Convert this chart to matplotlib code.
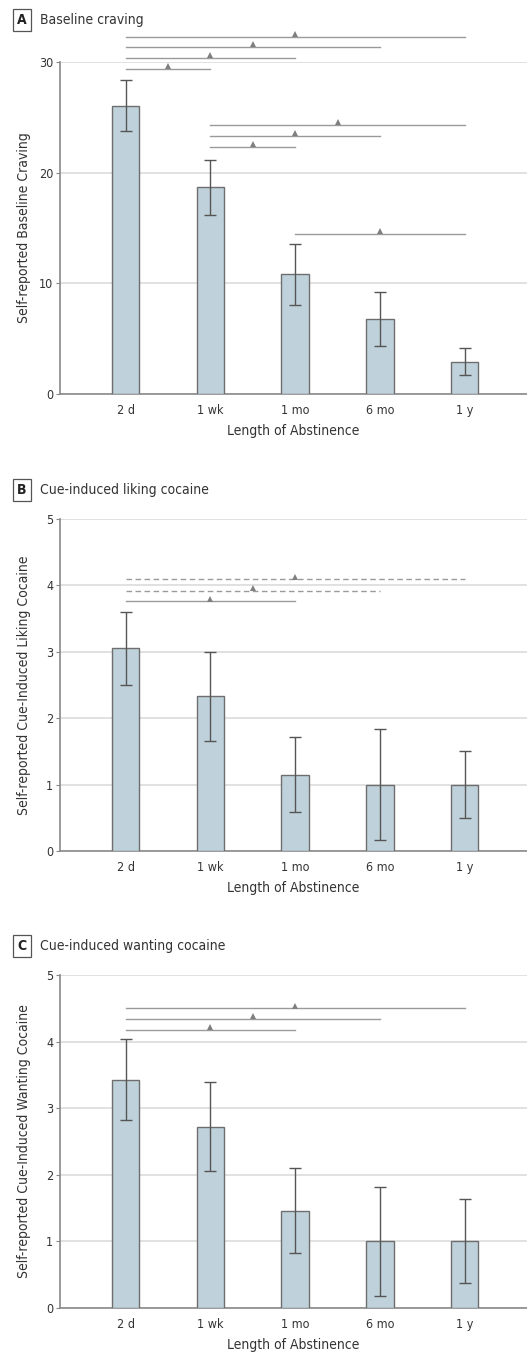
import matplotlib.pyplot as plt
import matplotlib.transforms as mtransforms

plt.rcParams['font.family'] = ['DejaVu Sans']
plt.rcParams['font.stretch'] = 'condensed'

categories = ["2 d", "1 wk", "1 mo", "6 mo", "1 y"]

# panel A: baseline craving
craving_mean = [26.05, 18.68, 10.8, 6.8, 2.9]
craving_err = [2.3, 2.49, 2.77, 2.43, 1.22]
# (from, to, y level, dashed)
craving_sig = [(0, 4, 32.3, False), (0, 3, 31.4, False), (0, 2, 30.4, False),
               (0, 1, 29.38, False), (1, 4, 24.34, False), (1, 3, 23.34, False),
               (1, 2, 22.35, False), (2, 4, 14.47, False)]

# panel B: cue-induced liking
liking_mean = [3.05, 2.33, 1.15, 1.0, 1.0]
liking_err = [0.55, 0.67, 0.56, 0.83, 0.51]
liking_sig = [(0, 4, 4.09, True), (0, 3, 3.92, True), (0, 2, 3.76, False)]

# panel C: cue-induced wanting
wanting_mean = [3.43, 2.72, 1.46, 1.0, 1.0]
wanting_err = [0.61, 0.67, 0.64, 0.82, 0.63]
wanting_sig = [(0, 4, 4.50, False), (0, 3, 4.34, False), (0, 2, 4.18, False)]

panels = [
    ("A", "Baseline craving", "Self-reported Baseline Craving",
     craving_mean, craving_err, craving_sig, [0, 10, 20, 30]),
    ("B", "Cue-induced liking cocaine", "Self-reported Cue-Induced Liking Cocaine",
     liking_mean, liking_err, liking_sig, [0, 1, 2, 3, 4, 5]),
    ("C", "Cue-induced wanting cocaine", "Self-reported Cue-Induced Wanting Cocaine",
     wanting_mean, wanting_err, wanting_sig, [0, 1, 2, 3, 4, 5]),
]

W, H = 527, 1353
fig = plt.figure(figsize=(W / 100, H / 100), dpi=100)

# axes boxes in pixels: (top, bottom); title centre y
boxes = [(62, 394, 20), (519, 851, 490), (975, 1308, 946)]
left_px = 60.3

bar_color = "#bfd2db"
edge_color = "#6e6e6e"
grid_color = "#dcdcdc"
sig_color = "#9a9a9a"
tri_color = "#7f7f7f"
text_color = "#333333"

for (letter, title, ylabel, means, errs, sig, yticks), (top, bot, ty) in zip(panels, boxes):
    ax = fig.add_axes([left_px / W, 1 - bot / H, 1 - left_px / W, (bot - top) / H])
    x = list(range(len(categories)))
    ax.bar(x, means, width=0.325, color=bar_color, edgecolor=edge_color,
           linewidth=1.0, zorder=3)
    ax.errorbar(x, means, yerr=errs, fmt="none", ecolor="#555555",
                elinewidth=1.0, capsize=4.2, capthick=1.0, zorder=4)

    ax.set_xlim(-0.77, 4.735)
    ax.set_ylim(0, yticks[-1])
    ax.set_yticks(yticks)
    ax.set_xticks(x)
    ax.set_xticklabels(categories, fontsize=9, color=text_color)
    ax.tick_params(axis="x", length=0, pad=7)
    ax.tick_params(axis="y", length=3, width=0.8, color="#888888",
                   labelsize=9, labelcolor=text_color, pad=2)
    ax.yaxis.grid(True, color=grid_color, linewidth=1.2, zorder=0)
    ax.set_axisbelow(True)
    for s in ["top", "right"]:
        ax.spines[s].set_visible(False)
    for s in ["left", "bottom"]:
        ax.spines[s].set_color("#8a8a8a")
        ax.spines[s].set_linewidth(1.2)
    ax.set_xlabel("Length of Abstinence", fontsize=10, color=text_color, labelpad=5)
    ax.set_ylabel(ylabel, fontsize=10, color=text_color)
    ax.yaxis.set_label_coords((31 - left_px) / (W - left_px), 0.5)

    tri_trans = mtransforms.offset_copy(ax.transData, fig=fig, y=2.6, units="dots")
    for i, j, yv, dashed in sig:
        ax.plot([i, j], [yv, yv], color=sig_color, linewidth=1.0,
                linestyle=(0, (4, 2.5)) if dashed else "-", clip_on=False, zorder=5)
        ax.plot([(i + j) / 2], [yv], marker="^", markersize=5, color=tri_color,
                markeredgewidth=0, transform=tri_trans, clip_on=False, zorder=6)

    fig.text(22 / W, 1 - ty / H, letter, fontsize=10, fontweight="bold",
             ha="center", va="center", color="#222222",
             bbox=dict(boxstyle="square,pad=0.32", facecolor="white",
                       edgecolor="#555555", linewidth=0.9))
    fig.text(40 / W, 1 - ty / H, title, fontsize=10, ha="left", va="center",
             color=text_color)

fig.savefig("out.png", dpi=100)
